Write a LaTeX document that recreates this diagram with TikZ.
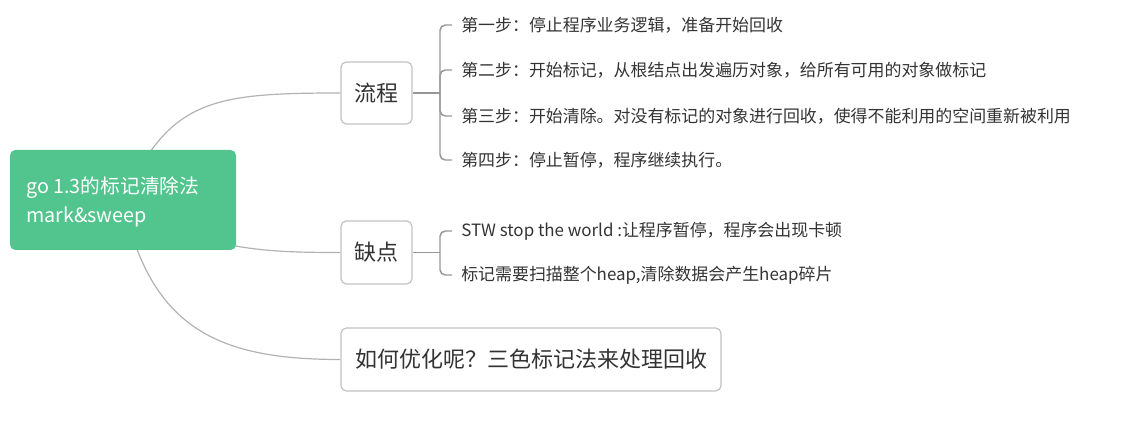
\documentclass[tikz,border=0pt]{standalone}
\usepackage{fontspec}
\setmainfont{Noto Sans CJK SC}
\usepackage{tikz}
\usetikzlibrary{
  backgrounds,
  positioning
}
\definecolor{rootgreen}{RGB}{82,196,141}
\definecolor{boxgray}{RGB}{194,194,194}
\definecolor{linkgray}{RGB}{178,178,178}
\definecolor{branchgray}{RGB}{150,150,150}
\definecolor{inkdark}{RGB}{51,51,51}
\tikzset{
  rootbox/.style={fill=rootgreen,rounded corners=4pt,text=white,
    align=left,inner sep=0pt,anchor=west,
    font=\fontsize{14.8}{22}\selectfont},
  topic/.style={draw=boxgray,line width=0.9pt,fill=white,
    rounded corners=4pt,inner sep=0pt,text=inkdark,
    font=\fontsize{16.5}{20}\selectfont},
  leaf/.style={anchor=west,text=inkdark,inner ysep=0pt,inner xsep=6.75pt,
    font=\fontsize{12.7}{15}\selectfont},
  link/.style={draw=linkgray,line width=0.9pt},
  branch/.style={draw=branchgray,line width=1.1pt,rounded corners=4pt}
}

\begin{document}
\begin{tikzpicture}[x=0.75pt,y=-0.75pt]
  \useasboundingbox (0,0) rectangle (1132,445);
  % root
  \path[fill=rootgreen,rounded corners=4pt] (10,150) rectangle (236,250);
  \node[rootbox] (root) at (26,202) {go 1.3的标记清除法\\mark\&sweep};
  % main topics
  \node[topic,minimum width=53.25pt,minimum height=46.5pt] (flow) at (376.5,93) {流程};
  \node[topic,minimum width=53.25pt,minimum height=47.25pt] (cons) at (376.5,252.5) {缺点};
  \node[topic,minimum width=285pt,minimum height=47.25pt] (next) at (531,359.5)
    {如何优化呢？三色标记法来处理回收};
  % steps
  \node[leaf] (s1) at (452,25) {第一步：停止程序业务逻辑，准备开始回收};
  \node[leaf] (s2) at (452,70) {第二步：开始标记，从根结点出发遍历对象，给所有可用的对象做标记};
  \node[leaf] (s3) at (452,116) {第三步：开始清除。对没有标记的对象进行回收，使得不能利用的空间重新被利用};
  \node[leaf] (s4) at (452,160) {第四步：停止暂停，程序继续执行。};
  % drawbacks
  \node[leaf] (d1) at (452,231) {STW stop the world :让程序暂停，程序会出现卡顿};
  \node[leaf] (d2) at (452,275) {标记需要扫描整个heap,清除数据会产生heap碎片};
  \coordinate (fj) at (440,93);
  \coordinate (cj) at (440,252.5);
  \draw[branch] (flow) -- (fj);
  \foreach \s in {s1,s2,s3,s4}
    \draw[branch] (fj) |- (\s);
  \draw[branch] (cons) -- (cj);
  \foreach \s in {d1,d2}
    \draw[branch] (cj) |- (\s);
  \begin{scope}[on background layer]
    \draw[link] (123,200) .. controls (170,100) and (210,93) .. (flow.west);
    \draw[link] (123,200) .. controls (200,250) and (260,252.5) .. (cons.west);
    \draw[link] (123,200) .. controls (150,330) and (220,359.5) .. (next.west);
  \end{scope}
\end{tikzpicture}
\end{document}
